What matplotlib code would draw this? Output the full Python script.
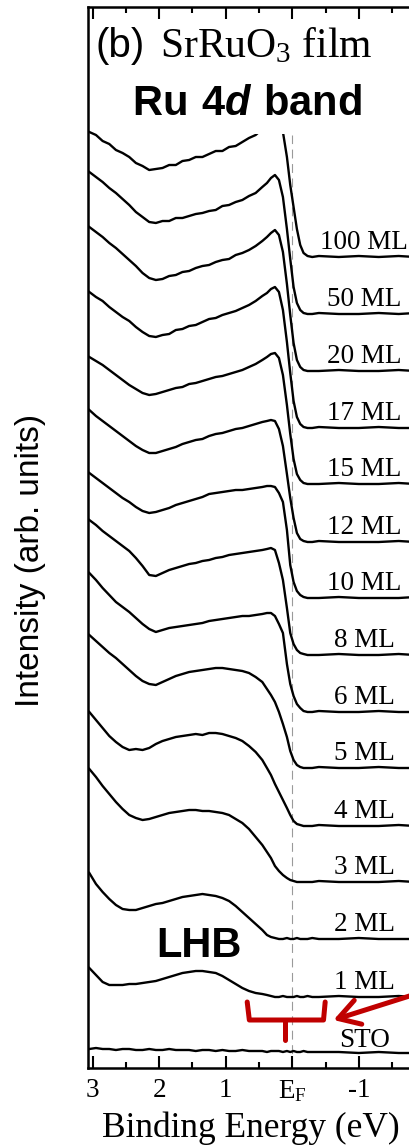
import matplotlib
matplotlib.use("Agg")
import matplotlib.pyplot as plt
import numpy as np

plt.rcParams['font.family'] = 'Liberation Serif'
plt.rcParams['mathtext.fontset'] = 'custom'
plt.rcParams['mathtext.rm'] = 'Liberation Serif'
plt.rcParams['mathtext.bf'] = 'Liberation Sans:bold'
plt.rcParams['mathtext.bfit'] = 'Liberation Sans:italic:bold'

# binding energy grid (eV) shared by every spectrum
energy = [3.05, 2.95, 2.85, 2.75, 2.65, 2.55, 2.45, 2.35, 2.25, 2.15,
          2.05, 1.95, 1.85, 1.75, 1.65, 1.55, 1.45, 1.35, 1.25, 1.15,
          1.05, 0.95, 0.85, 0.75, 0.65, 0.55, 0.45, 0.38, 0.32, 0.26,
          0.20, 0.14, 0.08, 0.03, -0.02, -0.07, -0.12, -0.17, -0.23, -0.30,
          -0.40, -0.70, -1.00, -1.30, -1.60, -1.85]

labels = ["100 ML", "50 ML", "20 ML", "17 ML", "15 ML", "12 ML", "10 ML",
          "8 ML", "6 ML", "5 ML", "4 ML", "3 ML", "2 ML", "1 ML", "STO"]

# vertical offset of each spectrum (arb. units)
offsets = [793, 736, 679, 622, 566, 508, 452, 395, 338, 282, 224, 168, 111, 53, 0]

# photoemission intensity above background (arb. units)
spec_100 = [125, 122, 116, 113, 107, 104, 100, 94, 91, 87,
            88, 89, 92, 92, 96, 97, 100, 100, 103, 106,
            106, 110, 111, 115, 119, 122, 128, 132, 137, 141,
            139, 125, 100, 72, 50, 28, 12, 4, 1, 0,
            1, 0, 1, 0, 1, 0]
spec_50 = [142, 137, 132, 126, 121, 115, 109, 102, 97, 92,
           91, 93, 93, 96, 96, 98, 100, 101, 103, 104,
           108, 109, 112, 114, 118, 121, 127, 131, 136, 139,
           134, 117, 85, 55, 27, 11, 4, 1, 0, 0,
           1, 0, 0, 1, 0, 1]
spec_20 = [144, 139, 134, 128, 123, 117, 111, 105, 98, 93,
           91, 92, 95, 96, 99, 100, 103, 105, 106, 109,
           111, 112, 116, 118, 121, 125, 130, 134, 138, 141,
           136, 119, 87, 56, 28, 11, 4, 1, 0, 0,
           0, 1, 0, 0, 1, 0]
spec_17 = [136, 131, 127, 121, 116, 111, 107, 101, 96, 92,
           91, 93, 94, 98, 99, 102, 103, 106, 109, 110,
           113, 115, 117, 120, 123, 127, 132, 135, 139, 141,
           136, 118, 86, 55, 27, 11, 4, 1, 0, 0,
           1, 0, 0, 1, 0, 0]
spec_15 = [127, 123, 119, 114, 109, 104, 99, 95, 91, 89,
           90, 92, 94, 96, 97, 100, 101, 103, 105, 107,
           108, 110, 112, 114, 117, 120, 124, 127, 130, 131,
           126, 109, 79, 50, 25, 10, 4, 1, 0, 0,
           0, 1, 0, 0, 1, 0]
spec_12 = [132, 126, 121, 116, 111, 106, 101, 96, 92, 89,
           89, 91, 93, 95, 98, 100, 102, 103, 106, 108,
           109, 111, 113, 114, 116, 118, 120, 121, 122, 121,
           113, 96, 68, 44, 24, 9, 3, 1, 0, 0,
           1, 0, 0, 0, 1, 0]
spec_10 = [125, 120, 115, 110, 105, 100, 96, 91, 87, 85,
           86, 88, 90, 93, 95, 97, 99, 101, 104, 105,
           106, 107, 108, 108, 109, 110, 111, 112, 112, 111,
           105, 96, 68, 33, 16, 7, 3, 1, 0, 0,
           0, 1, 0, 0, 0, 1]
spec_8 = [135, 130, 124, 119, 114, 109, 104, 97, 89, 80,
          79, 82, 85, 87, 89, 91, 92, 94, 95, 97,
          98, 100, 101, 102, 103, 104, 105, 106, 107, 105,
          92, 75, 47, 22, 11, 5, 2, 1, 0, 0,
          0, 1, 0, 0, 1, 0]
spec_6 = [139, 132, 124, 117, 110, 105, 100, 94, 88, 83,
          80, 82, 84, 85, 86, 87, 88, 89, 91, 92,
          93, 94, 95, 96, 96, 97, 98, 99, 99, 96,
          88, 79, 48, 28, 16, 8, 4, 1, 0, 0,
          1, 0, 0, 1, 0, 0]
spec_5 = [133, 127, 121, 115, 110, 104, 98, 92, 87, 84,
          83, 86, 89, 92, 94, 96, 97, 98, 99, 100,
          100, 99, 98, 97, 95, 91, 86, 79, 73, 66,
          56, 44, 31, 17, 8, 3, 1, 0, 0, 0,
          1, 0, 0, 1, 0, 0]
spec_4 = [114, 106, 98, 90, 84, 79, 76, 77, 76, 78,
          82, 85, 87, 89, 90, 91, 92, 91, 93, 93,
          92, 90, 88, 85, 80, 74, 66, 58, 51, 42,
          34, 26, 18, 11, 5, 2, 1, 0, 0, 0,
          1, 0, 0, 0, 1, 0]
spec_3 = [113, 105, 96, 88, 80, 73, 67, 64, 62, 63,
          65, 67, 69, 70, 71, 72, 72, 71, 71, 70,
          69, 67, 63, 59, 53, 45, 37, 30, 24, 16,
          11, 7, 4, 2, 1, 0, 0, 0, 0, 0,
          1, 0, 0, 0, 1, 0]
spec_2 = [66, 55, 47, 40, 34, 30, 29, 29, 31, 33,
          35, 36, 38, 40, 42, 43, 44, 45, 44, 43,
          41, 38, 33, 27, 21, 15, 9, 4, 2, 1,
          0, 0, 1, 0, 0, 1, 0, 0, 0, 1,
          0, 0, 1, 0, 0, 0]
spec_1 = [29, 22, 15, 12, 12, 12, 13, 13, 14, 15,
          16, 18, 20, 22, 24, 25, 26, 26, 25, 24,
          21, 17, 13, 9, 6, 4, 3, 2, 1, 0,
          0, 1, 0, 0, 0, 1, 0, 0, 1, 0,
          0, 1, 0, 0, 1, 0]
spec_sto = [1, 2, 1, 1, 0, 1, 1, 0, 0, 1,
            0, 0, 1, 0, 0, 0, -1, 0, 0, -1,
            0, -1, -1, 0, -1, -1, -1, -2, -1, -1,
            -1, -2, -1, -2, -1, -2, -2, -1, -2, -2,
            -2, -2, -3, -2, -3, -3]

spectra = [spec_100, spec_50, spec_20, spec_17, spec_15, spec_12, spec_10,
           spec_8, spec_6, spec_5, spec_4, spec_3, spec_2, spec_1, spec_sto]

xticks = [3, 2, 1, 0, -1]
xticklabels = ['3', '2', '1', r'$\mathregular{E_F}$', '-1']
xminor = [2.5, 1.5, 0.5, -0.5, -1.5]

fig = plt.figure(figsize=(4.10, 11.48), dpi=100)
ax = fig.add_axes([88 / 410, 80 / 1148, 322 / 410, 1061 / 1148])

# Fermi level marker, stops under the band label
ax.vlines(0, -18, 915, color='#9a9a9a', lw=0.8, ls=(0, (8, 5)), zorder=1)

for name, off, spec in zip(labels, offsets, spectra):
    ax.plot(energy, np.array(spec) + off, color='black', lw=1.7, zorder=2)
    lift = 3 if name == 'STO' else 8
    ax.text(-1.08, off + lift, name, ha='center', va='baseline',
            fontsize=19.5, zorder=3)

ax.set_xlim(3.07, -1.77)
ax.set_ylim(-18, 1043)
ax.set_xticks(xticks)
ax.set_xticklabels(xticklabels)
ax.set_xticks(xminor, minor=True)
ax.set_yticks([])
ax.tick_params(axis='x', which='major', direction='in', length=8.5, width=1.5,
               top=True, labelsize=19.5, pad=7)
ax.tick_params(axis='x', which='minor', direction='in', length=4.5, width=1.5,
               top=True)
for side in ['left', 'bottom', 'top']:
    ax.spines[side].set_linewidth(1.8)
ax.spines['right'].set_visible(False)

# panel title and annotations
ax.text(2.96, 993, '(b)', family='Liberation Sans', fontsize=29,
        ha='left', va='baseline')
ax.text(1.985, 993, r'SrRuO$\mathregular{_3}$ film', fontsize=30,
        ha='left', va='baseline')
ax.text(0.677, 935, r'$\mathbf{Ru\ 4}\mathbfit{d}\mathbf{\ band}$',
        fontsize=30, ha='center', va='baseline', zorder=4,
        bbox=dict(facecolor='white', edgecolor='none',
                  boxstyle='square,pad=0.25'))
ax.text(1.4, 93, 'LHB', family='Liberation Sans', fontweight='bold',
        fontsize=30, ha='center', va='baseline', zorder=4)

red = '#c00000'
ax.plot([0.677, 0.645, -0.47, -0.495], [48, 30, 30, 48], color=red, lw=3.6,
        solid_joinstyle='round', solid_capstyle='round', zorder=5)
ax.plot([0.105, 0.105], [30, 10], color=red, lw=3.6,
        solid_capstyle='round', zorder=5)
ax.annotate('', xy=(-0.62, 30), xytext=(-2.0, 59), annotation_clip=False,
            arrowprops=dict(arrowstyle='->,head_length=0.75,head_width=0.45',
                            color=red, lw=3.6, shrinkA=0, shrinkB=0,
                            mutation_scale=20), zorder=5)

fig.text(31 / 410, 1 - 560 / 1148, 'Intensity (arb. units)',
         family='Liberation Sans', fontsize=24, rotation=90,
         ha='center', va='center')
fig.text(251 / 410, 11 / 1148, 'Binding Energy (eV)', fontsize=25.5,
         ha='center', va='baseline')

fig.savefig('out.png', dpi=100)
